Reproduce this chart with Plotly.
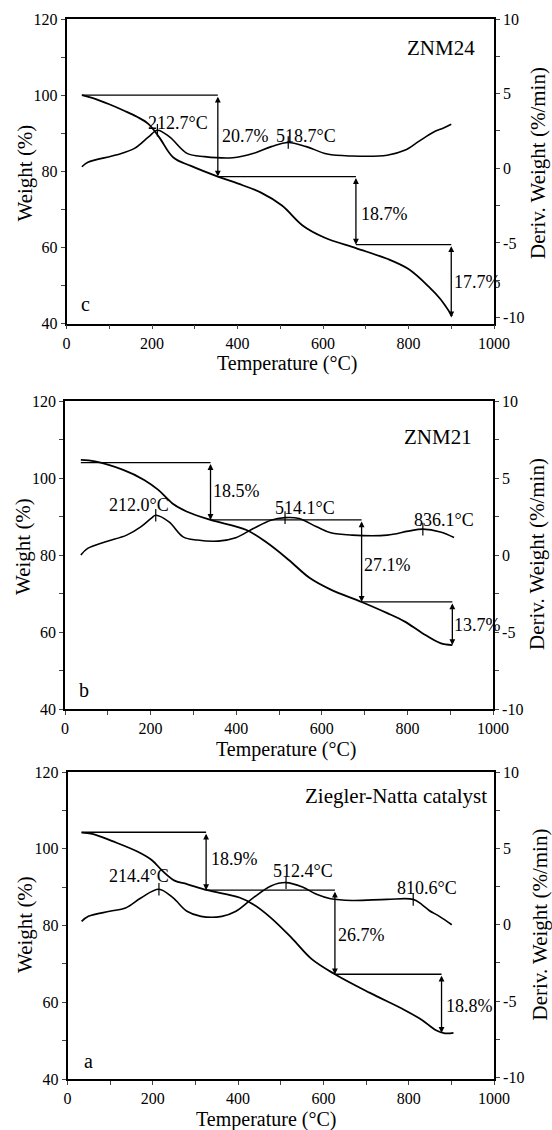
import plotly.graph_objects as go

# ---------------- DATA ----------------
# Panel c : ZNM24
c_tga_T = [36, 60, 100, 135, 165, 192, 217, 250, 291, 354, 400, 455, 504, 553, 603, 677, 750, 800, 849, 874, 902]
c_tga_W = [100, 99.3, 97.6, 95.9, 94.3, 92.4, 88.9, 83.6, 81.4, 78.6, 76.8, 74.4, 71, 65.7, 62.6, 59.8, 57, 54.3, 49.5, 46.5, 42]
c_dtg_T = [36, 50, 118, 159, 192, 212.7, 241, 282, 323, 389, 438, 479, 518.7, 561, 610, 668, 750, 791, 824, 857, 882, 900]
c_dtg_D = [0.1, 0.4, 0.9, 1.33, 2.1, 2.55, 2.1, 1.0, 0.78, 0.7, 1.0, 1.45, 1.73, 1.45, 0.95, 0.82, 0.87, 1.2, 1.8, 2.4, 2.7, 2.95]
c_step_T = [36, 354, 677, 900]
c_step_W = [100, 78.6, 60.7, 41.6]
c_step_labels = ["20.7%", "18.7%", "17.7%"]
c_peak_T = [212.7, 518.7]
c_peak_D = [2.55, 1.73]
c_peak_labels = ["212.7°C", "518.7°C"]

# Panel b : ZNM21
b_tga_T = [37, 70, 136, 185, 218, 251, 284, 340, 424, 473, 523, 572, 621, 693, 753, 794, 835, 877, 905]
b_tga_W = [104.7, 104.3, 102.1, 99.5, 96.9, 93.4, 91.3, 89.1, 86.5, 83.1, 78.7, 74, 71, 67.8, 64.9, 62.7, 59.7, 57.1, 56.6]
b_dtg_T = [37, 53, 95, 144, 177, 202, 212.0, 243, 276, 309, 358, 399, 440, 481, 514.1, 547, 588, 621, 671, 753, 802, 836.1, 877, 909]
b_dtg_D = [0, 0.43, 0.86, 1.29, 1.83, 2.4, 2.58, 2.15, 1.18, 0.97, 0.9, 1.12, 1.72, 2.26, 2.43, 2.37, 1.83, 1.44, 1.29, 1.29, 1.55, 1.68, 1.5, 1.14]
b_step_T = [37, 340, 693, 905]
b_step_W = [104, 89.1, 67.8, 56.6]
b_step_labels = ["18.5%", "27.1%", "13.7%"]
b_peak_T = [212.0, 514.1, 836.1]
b_peak_D = [2.58, 2.43, 1.68]
b_peak_labels = ["212.0°C", "514.1°C", "836.1°C"]

# Panel a : Ziegler-Natta catalyst
a_tga_T = [33, 58, 107, 165, 198, 222, 251, 280, 328, 403, 436, 477, 527, 572, 627, 708, 790, 831, 864, 885, 905]
a_tga_W = [104.2, 103.9, 101.9, 99.2, 97, 94.3, 91.7, 90.8, 89.2, 87.3, 85.5, 82, 76.6, 71.3, 67.3, 62.5, 58, 55.4, 52.7, 51.9, 52]
a_dtg_T = [33, 49, 99, 136, 173, 214.4, 247, 280, 313, 362, 395, 436, 477, 512.4, 551, 584, 617, 667, 749, 810.6, 831, 848, 872, 901]
a_dtg_D = [0.22, 0.55, 0.88, 1.1, 1.77, 2.32, 1.77, 0.88, 0.55, 0.55, 0.88, 1.77, 2.54, 2.76, 2.47, 1.99, 1.7, 1.59, 1.66, 1.66, 1.32, 0.93, 0.55, 0.0]
a_step_T = [33, 325, 627, 877]
a_step_W = [104.3, 89.2, 67.3, 52]
a_step_labels = ["18.9%", "26.7%", "18.8%"]
a_peak_T = [214.4, 512.4, 810.6]
a_peak_D = [2.32, 2.76, 1.66]
a_peak_labels = ["214.4°C", "512.4°C", "810.6°C"]

x_ticks = list(range(0, 1001, 100))
x_ticktext = [str(v) if v % 200 == 0 else "" for v in x_ticks]
w_ticks = list(range(40, 121, 10))
w_ticktext = [str(v) if v % 20 == 0 else "" for v in w_ticks]
d_ticks = [-10, -7.5, -5, -2.5, 0, 2.5, 5, 7.5, 10]
d_ticktext = ["-10", "", "-5", "", "0", "", "5", "", "10"]

# ---------------- LAYOUT GEOMETRY (pixels) ----------------
W_PX, H_PX = 552, 1130
FONT = "Liberation Serif"

panels = [
    dict(tT=c_tga_T, tW=c_tga_W, dT=c_dtg_T, dD=c_dtg_D, sT=c_step_T, sW=c_step_W, sl=c_step_labels,
         pT=c_peak_T, pD=c_peak_D, pl=c_peak_labels, name="ZNM24", letter="c",
         top=19, bot=323.5, left=66.5, right=494, drange=[-10.4, 10],
         lab_pos=[(360, 89.3), (685, 68.9), (901, 50.8)],
         peak_pos=[(261, 92.7), (561, 89.3)],
         name_pos=(960, 112.4), letter_pos=(44, 45.2),
         xt=(287, 364), yt=(24.5, 173), y2t=(538, 163)),
    dict(tT=b_tga_T, tW=b_tga_W, dT=b_dtg_T, dD=b_dtg_D, sT=b_step_T, sW=b_step_W, sl=b_step_labels,
         pT=b_peak_T, pD=b_peak_D, pl=b_peak_labels, name="ZNM21", letter="b",
         top=401, bot=709, left=65, right=493, drange=[-10, 10],
         lab_pos=[(342, 96.5), (695, 77.4), (904, 61.9)],
         peak_pos=[(174, 93), (561, 92.1), (885, 89.1)],
         name_pos=(955, 110.7), letter_pos=(45, 45),
         xt=(286, 749), yt=(23, 547), y2t=(537, 554)),
    dict(tT=a_tga_T, tW=a_tga_W, dT=a_dtg_T, dD=a_dtg_D, sT=a_step_T, sW=a_step_W, sl=a_step_labels,
         pT=a_peak_T, pD=a_peak_D, pl=a_peak_labels, name="Ziegler-Natta catalyst", letter="a",
         top=772, bot=1079, left=67.5, right=494, drange=[-10.1, 10],
         lab_pos=[(331, 97.4), (630, 77.5), (882, 59)],
         peak_pos=[(167, 93), (553, 94.3), (842, 89.9)],
         name_pos=(988, 113.8), letter_pos=(49, 44.8),
         xt=(266, 1119), yt=(25, 925), y2t=(539.5, 925)),
]

fig = go.Figure()
layout = dict(width=W_PX, height=H_PX, margin=dict(l=0, r=0, t=0, b=0, pad=0, autoexpand=False),
              paper_bgcolor="white", plot_bgcolor="white", showlegend=False,
              font=dict(family=FONT, color="black", size=16))
annotations = []

for i, p in enumerate(panels):
    n = i + 1
    xa = "x" if n == 1 else f"x{n}"
    ya = "y" if n == 1 else f"y{2*n-1}"
    yb = f"y{2*n}"
    xkey = "xaxis" if n == 1 else f"xaxis{n}"
    yakey = "yaxis" if n == 1 else f"yaxis{2*n-1}"
    ybkey = f"yaxis{2*n}"
    xdom = [p["left"] / W_PX, p["right"] / W_PX]
    ydom = [1 - p["bot"] / H_PX, 1 - p["top"] / H_PX]

    common = dict(ticks="outside", ticklen=4, tickwidth=1.2, showline=True, linecolor="black",
                  linewidth=1.8, showgrid=False, zeroline=False, automargin=False,
                  tickfont=dict(size=16, family=FONT, color="black"))
    layout[xkey] = dict(domain=xdom, anchor=ya, range=[0, 1000], tickvals=x_ticks, ticktext=x_ticktext,
                        mirror=True, **common)
    layout[yakey] = dict(domain=ydom, anchor=xa, range=[40, 120], tickvals=w_ticks, ticktext=w_ticktext, **common)
    layout[ybkey] = dict(domain=ydom, anchor=xa, overlaying=ya, side="right", range=p["drange"],
                         tickvals=d_ticks, ticktext=d_ticktext, **common)

    # TGA curve
    fig.add_trace(go.Scatter(x=p["tT"], y=p["tW"], mode="lines", line=dict(color="black", width=1.8, shape="spline"),
                             xaxis=xa, yaxis=ya))
    # DTG curve
    fig.add_trace(go.Scatter(x=p["dT"], y=p["dD"], mode="lines", line=dict(color="black", width=1.6, shape="spline"),
                             xaxis=xa, yaxis=yb))
    # peak tick marks
    fig.add_trace(go.Scatter(x=p["pT"], y=p["pD"], mode="markers",
                             marker=dict(symbol="line-ns", size=9, line=dict(color="black", width=1.2)),
                             xaxis=xa, yaxis=yb))
    # horizontal step lines and double arrows
    for k in range(len(p["sT"]) - 1):
        fig.add_trace(go.Scatter(x=[p["sT"][k], p["sT"][k + 1]], y=[p["sW"][k], p["sW"][k]], mode="lines",
                                 line=dict(color="black", width=1.3), xaxis=xa, yaxis=ya))
        annotations.append(dict(x=p["sT"][k + 1], y=p["sW"][k + 1], ax=p["sT"][k + 1], ay=p["sW"][k],
                                xref=xa, yref=ya, axref=xa, ayref=ya, text="", showarrow=True,
                                arrowhead=2, arrowside="end+start", arrowsize=0.9, arrowwidth=1.3,
                                arrowcolor="black", standoff=0, startstandoff=0))
        lx, ly = p["lab_pos"][k]
        annotations.append(dict(x=lx, y=ly, xref=xa, yref=ya, text=p["sl"][k], showarrow=False,
                                xanchor="left", yanchor="middle", font=dict(size=18)))
    for k, lab in enumerate(p["pl"]):
        lx, ly = p["peak_pos"][k]
        annotations.append(dict(x=lx, y=ly, xref=xa, yref=ya, text=lab, showarrow=False,
                                xanchor="center", yanchor="middle", font=dict(size=18)))
    nx, ny = p["name_pos"]
    annotations.append(dict(x=nx, y=ny, xref=xa, yref=ya, text=p["name"], showarrow=False,
                            xanchor="right", yanchor="middle", font=dict(size=21)))
    lx, ly = p["letter_pos"]
    annotations.append(dict(x=lx, y=ly, xref=xa, yref=ya, text=p["letter"], showarrow=False,
                            xanchor="center", yanchor="middle", font=dict(size=20)))
    # axis titles
    tx, ty = p["xt"]
    annotations.append(dict(x=tx / W_PX, y=1 - ty / H_PX, xref="paper", yref="paper",
                            text="Temperature (°C)", showarrow=False, xanchor="center", yanchor="middle",
                            font=dict(size=20)))
    tx, ty = p["yt"]
    annotations.append(dict(x=tx / W_PX, y=1 - ty / H_PX, xref="paper", yref="paper",
                            text="Weight (%)", showarrow=False, xanchor="center", yanchor="middle",
                            textangle=-90, font=dict(size=21)))
    tx, ty = p["y2t"]
    annotations.append(dict(x=tx / W_PX, y=1 - ty / H_PX, xref="paper", yref="paper",
                            text="Deriv. Weight (%/min)", showarrow=False, xanchor="center", yanchor="middle",
                            textangle=-90, font=dict(size=21)))

layout["annotations"] = annotations
fig.update_layout(**layout)
fig.write_html("out.html", config={"displayModeBar": False},
               post_script="document.body.style.margin='0';document.body.style.overflow='hidden';")
